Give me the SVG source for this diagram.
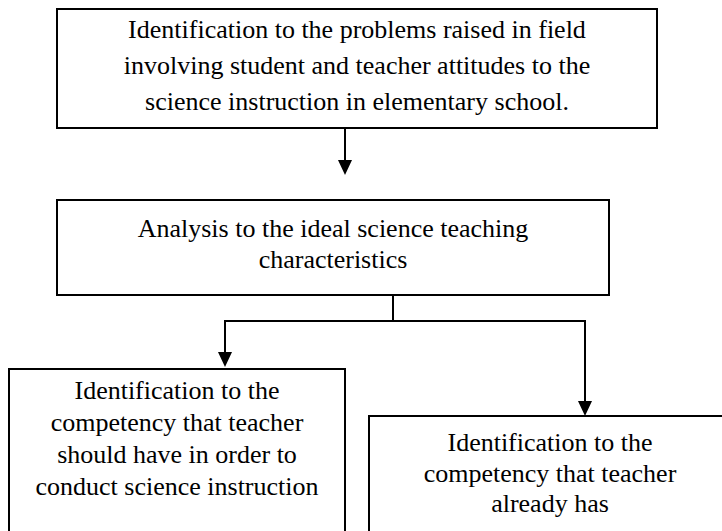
<svg xmlns="http://www.w3.org/2000/svg" width="722" height="531" viewBox="0 0 722 531">
  <style>
    .box { fill: #ffffff; stroke: #000000; stroke-width: 2; }
    .lbl { font-family: 'Liberation Serif', 'DejaVu Serif', serif; font-size: 26px; fill: #000000; text-anchor: middle; }
    .conn { fill: none; stroke: #000000; stroke-width: 2; }
  </style>
  <defs>
    <marker id="arrow" markerUnits="userSpaceOnUse" markerWidth="16" markerHeight="16" refX="12" refY="7" orient="auto" viewBox="0 0 16 16">
      <path d="M0,0 L15,7 L0,14 Z" fill="#000000"/>
    </marker>
  </defs>
  <rect width="722" height="531" fill="#ffffff"/>

  <g id="node-problems">
    <rect class="box" x="57" y="9" width="600" height="119"/>
    <text class="lbl" x="357" y="38" font-family="Liberation Serif, serif">Identification to the problems raised in field</text>
    <text class="lbl" x="357" y="74" font-family="Liberation Serif, serif">involving student and teacher attitudes to the</text>
    <text class="lbl" x="357" y="110" font-family="Liberation Serif, serif">science instruction in elementary school.</text>
  </g>

  <g id="node-analysis">
    <rect class="box" x="57" y="200" width="552" height="95"/>
    <text class="lbl" x="333" y="237">Analysis to the ideal science teaching</text>
    <text class="lbl" x="333" y="268">characteristics</text>
  </g>

  <g id="node-should-have">
    <rect class="box" x="9" y="369" width="336" height="180"/>
    <text class="lbl" x="177" y="399">Identification to the</text>
    <text class="lbl" x="177" y="431">competency that teacher</text>
    <text class="lbl" x="177" y="463">should have in order to</text>
    <text class="lbl" x="177" y="495">conduct science instruction</text>
  </g>

  <g id="node-already-has">
    <rect class="box" x="369" y="416" width="362" height="140"/>
    <text class="lbl" x="550" y="451">Identification to the</text>
    <text class="lbl" x="550" y="482">competency that teacher</text>
    <text class="lbl" x="550" y="512">already has</text>
  </g>

  <g id="connectors">
    <line class="conn" x1="345" y1="128" x2="345" y2="172" marker-end="url(#arrow)"/>
    <line class="conn" x1="393" y1="295" x2="393" y2="321"/>
    <line class="conn" x1="224" y1="321" x2="586" y2="321"/>
    <line class="conn" x1="225" y1="321" x2="225" y2="364" marker-end="url(#arrow)"/>
    <line class="conn" x1="585" y1="321" x2="585" y2="413" marker-end="url(#arrow)"/>
  </g>
</svg>
